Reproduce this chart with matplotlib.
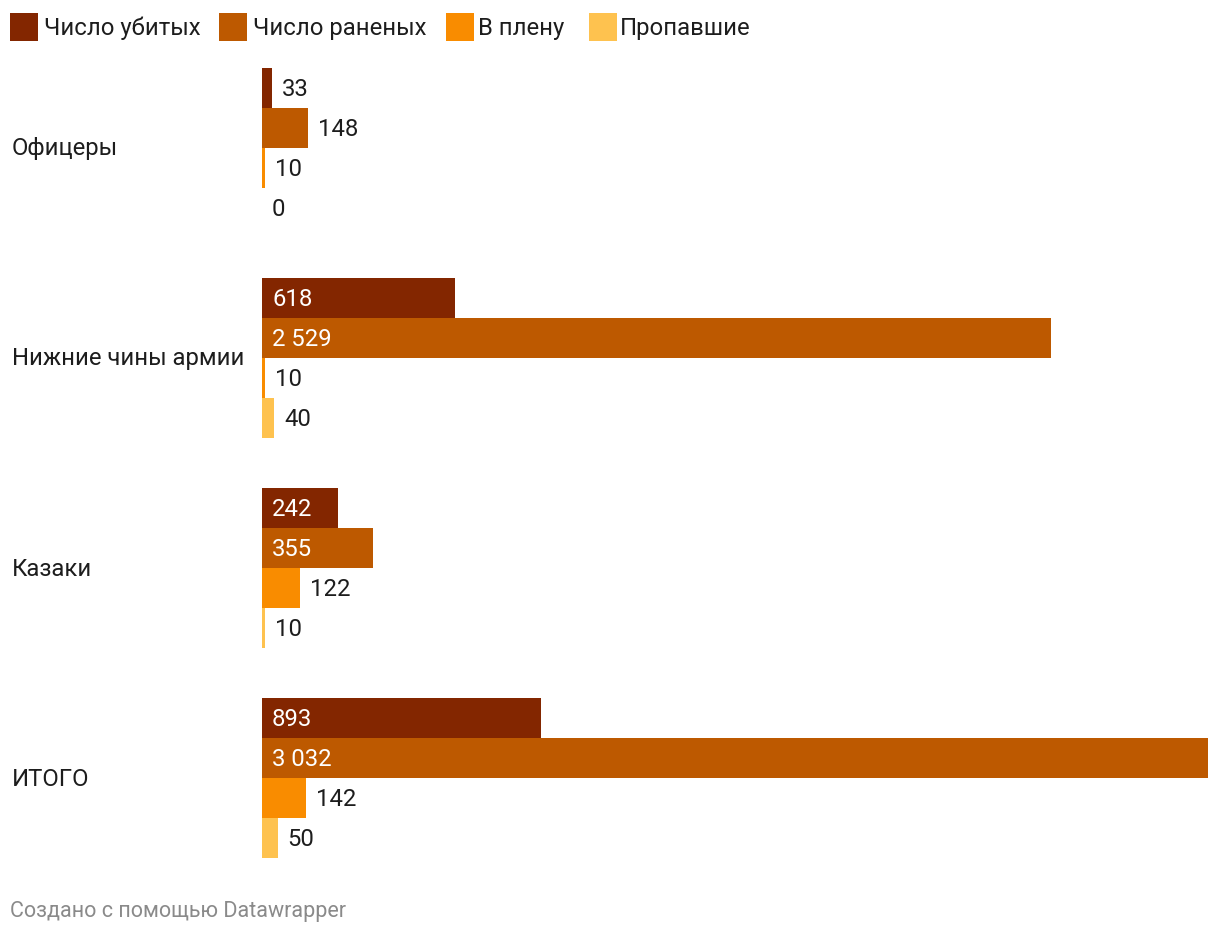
import matplotlib
matplotlib.use("Agg")
import matplotlib.pyplot as plt
from matplotlib.patches import Rectangle

categories = ["Офицеры", "Нижние чины армии", "Казаки", "ИТОГО"]
series_names = ["Число убитых", "Число раненых", "В плену", "Пропавшие"]
killed = [33, 618, 242, 893]
wounded = [148, 2529, 355, 3032]
captured = [10, 10, 122, 142]
missing = [0, 40, 10, 50]
colors = ["#832600", "#bd5900", "#f98c00", "#fec24f"]

series = [killed, wounded, captured, missing]

W, H = 1220, 936
DPI = 100
plt.rcParams['font.family'] = ['Roboto', 'DejaVu Sans']
fig = plt.figure(figsize=(W / DPI, H / DPI), dpi=DPI)

def fx(px):
    return px / W

def fy(py):
    return 1 - py / H

ax_left, ax_right, ax_top, ax_bottom = 262, 1208, 68, 858
ax = fig.add_axes([fx(ax_left), fy(ax_bottom), fx(ax_right - ax_left), (ax_bottom - ax_top) / H])
ax.axis('off')

bar_h = 40
group_gap = 210
xmax = max(wounded)
ax.set_xlim(0, xmax)
ax.set_ylim(ax_bottom - ax_top, 0)
px_per_unit = (ax_right - ax_left) / xmax

FS = 17.2
text_color = "#1d1d1d"
for gi, cat in enumerate(categories):
    for si, vals in enumerate(series):
        v = vals[gi]
        y0 = gi * group_gap + si * bar_h
        ax.barh(y0 + bar_h / 2, v, height=bar_h, color=colors[si], align='center', linewidth=0)
        label = f"{v:,}".replace(",", " ")
        wpx = v * px_per_unit
        if wpx > 60:
            ax.text(10 / px_per_unit, y0 + bar_h / 2 + 1, label, color="white", fontsize=FS,
                    va='center', ha='left')
        else:
            ax.text(v + 10 / px_per_unit, y0 + bar_h / 2 + 1, label, color=text_color, fontsize=FS,
                    va='center', ha='left')
    ycenter_px = ax_top + gi * group_gap + 2 * bar_h + 1
    fig.text(fx(12), fy(ycenter_px), cat, fontsize=FS, color=text_color, va='center', ha='left')

# legend
leg_x = [10, 219, 446, 589]
leg_tx = [44, 253, 478, 620]
for name, c, lx, tx in zip(series_names, colors, leg_x, leg_tx):
    fig.patches.append(Rectangle((fx(lx), fy(41)), 28 / W, 28 / H, transform=fig.transFigure,
                                 facecolor=c, edgecolor='none'))
    fig.text(fx(tx), fy(28), name, fontsize=FS, color=text_color, va='center', ha='left')

fig.text(fx(10), fy(912), "Создано с помощью Datawrapper", fontsize=15.5, color="#8a8a8a",
         va='center', ha='left')

fig.savefig("out.png", dpi=DPI, facecolor="white")
